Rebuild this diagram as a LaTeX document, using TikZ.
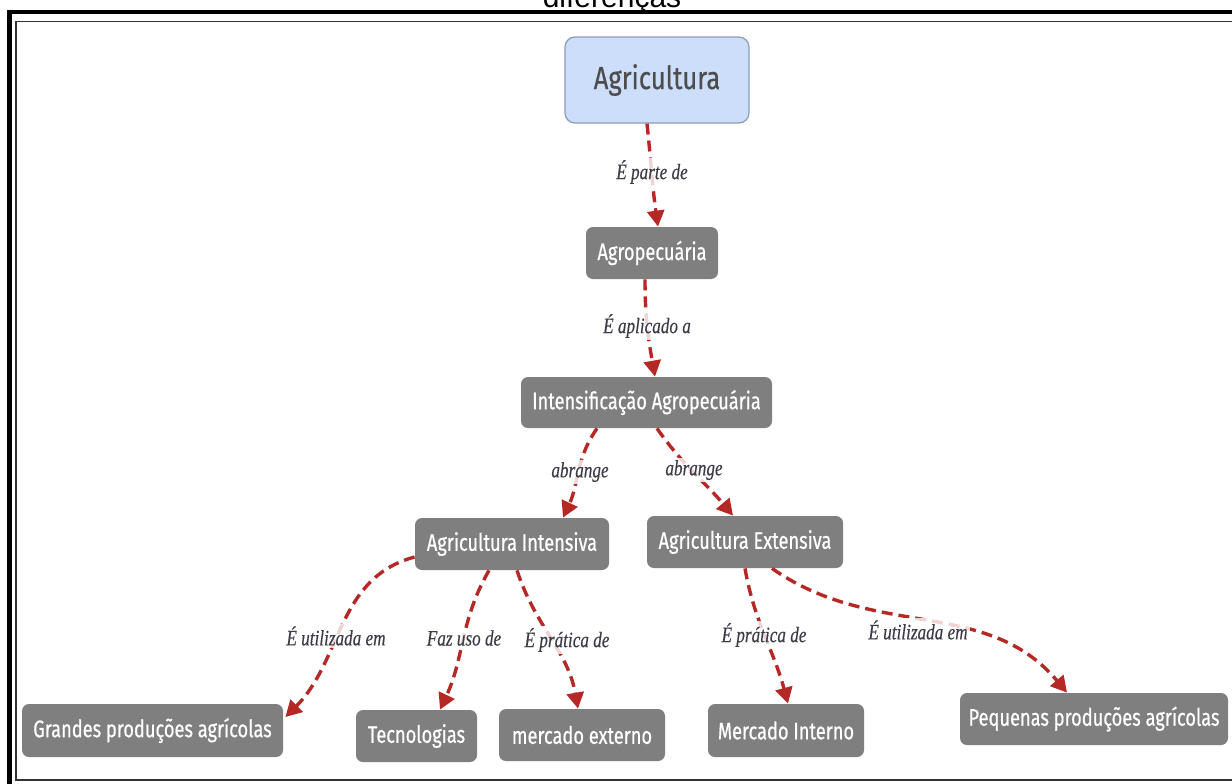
\documentclass[tikz,border=0pt]{standalone}
\usepackage{fontspec}
\setmainfont{Liberation Serif}
\newfontfamily\boxfont{Fira Sans}[FakeStretch=0.76,FakeBold=0.6]
\newfontfamily\rootfont{Fira Sans}[FakeStretch=0.8,FakeBold=0.4]
\newfontfamily\linkfont{Liberation Serif}[FakeStretch=0.78,FakeBold=0.3]
\newfontfamily\headfont{Liberation Sans}
\usetikzlibrary{arrows.meta}
\definecolor{linkred}{RGB}{181,40,38}
\definecolor{boxgray}{RGB}{127,127,127}
\definecolor{rootfill}{RGB}{204,222,250}
\definecolor{rootline}{RGB}{140,157,184}
\definecolor{roottext}{RGB}{77,77,77}
\definecolor{labeltext}{RGB}{60,60,72}
\begin{document}
\begin{tikzpicture}[x=0.5pt,y=0.5pt,
  concept/.style={fill=boxgray, rounded corners=3.5pt, text=white,
    font=\boxfont\fontsize{12}{14}\selectfont, inner sep=0pt},
  root/.style={draw=rootline, line width=0.6pt, fill=rootfill, rounded corners=5pt,
    text=roottext, font=\rootfont\fontsize{16}{19}\selectfont, inner sep=0pt},
  link/.style={draw=linkred, line width=1.7pt, dash pattern=on 5.5pt off 3pt,
    -{Triangle[length=8pt,width=8.5pt]}, fill=none},
  linklabel/.style={font=\linkfont\itshape\fontsize{11}{13}\selectfont, text=labeltext,
    fill=white, fill opacity=0.8, text opacity=1, inner sep=1pt},
]
\useasboundingbox (0,0) rectangle (1232,-783);
\clip (0,0) rectangle (1232,-783);
\fill[white] (0,0) rectangle (1232,-783);

% heading above the frame (only its lower part lies on the page)
\node[font=\headfont\fontsize{15}{18}\selectfont, anchor=base, inner sep=0pt] (head) at (612,-7) {diferenças};

% double frame
\draw[line width=2.3pt] (9.5,-12) rectangle (1260,-810);
\draw[line width=0.9pt, black!80] (16,-21.5) rectangle (1250,-780);

% concepts
\node[root, minimum width=92pt, minimum height=43pt] (agri) at (657,-80) {Agricultura};
\node[concept, minimum width=66pt, minimum height=26pt] (agro) at (652,-253) {Agropecuária};
\node[concept, minimum width=125.5pt, minimum height=25.5pt] (intens) at (646.5,-402.5) {Intensificação Agropecuária};
\node[concept, minimum width=97pt, minimum height=26pt] (agint) at (512,-544) {Agricultura Intensiva};
\node[concept, minimum width=98pt, minimum height=26pt] (agext) at (745,-542) {Agricultura Extensiva};
\node[concept, minimum width=130.5pt, minimum height=26.5pt] (grandes) at (152.5,-730.5) {Grandes produções agrícolas};
\node[concept, minimum width=60.5pt, minimum height=26pt] (tec) at (416.5,-736) {Tecnologias};
\node[concept, minimum width=83pt, minimum height=26pt] (mext) at (582,-735) {mercado externo};
\node[concept, minimum width=78pt, minimum height=26.5pt] (mint) at (786,-730.5) {Mercado Interno};
\node[concept, minimum width=134pt, minimum height=26pt] (peq) at (1094,-719) {Pequenas produções agrícolas};

% links
\draw[link] ([xshift=-5pt]agri.south) to[out=-84,in=98] ([xshift=3pt]agro.north);
\draw[link] ([xshift=-3.5pt]agro.south) to[out=-90,in=100] ([xshift=4.25pt]intens.north);
\draw[link] ([xshift=-24.75pt]intens.south) to[out=-125,in=65] ([xshift=25.5pt]agint.north);
\draw[link] ([xshift=5.25pt]intens.south) to[out=-55,in=130] ([xshift=-6pt]agext.north);
\draw[link] ([yshift=-6.5pt]agint.west) to[out=195,in=45] ([xshift=1pt,yshift=6.75pt]grandes.east);
\draw[link] ([xshift=-11.5pt]agint.south) to[out=-120,in=65] ([xshift=11.75pt]tec.north);
\draw[link] ([xshift=2.5pt]agint.south) to[out=-72,in=100] ([xshift=-2pt]mext.north);
\draw[link] (agext.south) to[out=-80,in=105] ([xshift=1pt]mint.north);
\draw[link] ([xshift=13.5pt]agext.south) to[out=-35,in=130] ([xshift=-13.5pt]peq.north);

% link labels
\node[linklabel] (l1) at (652,-172) {É parte de};
\node[linklabel] (l2) at (647,-326) {É aplicado a};
\node[linklabel] (l3) at (580,-472) {abrange};
\node[linklabel] (l4) at (694,-470) {abrange};
\node[linklabel] (l5) at (336,-636) {É utilizada em};
\node[linklabel] (l6) at (464,-638) {Faz uso de};
\node[linklabel] (l7) at (567,-640) {É prática de};
\node[linklabel] (l8) at (764,-635) {É prática de};
\node[linklabel] (l9) at (918,-630) {É utilizada em};
\end{tikzpicture}
\end{document}
